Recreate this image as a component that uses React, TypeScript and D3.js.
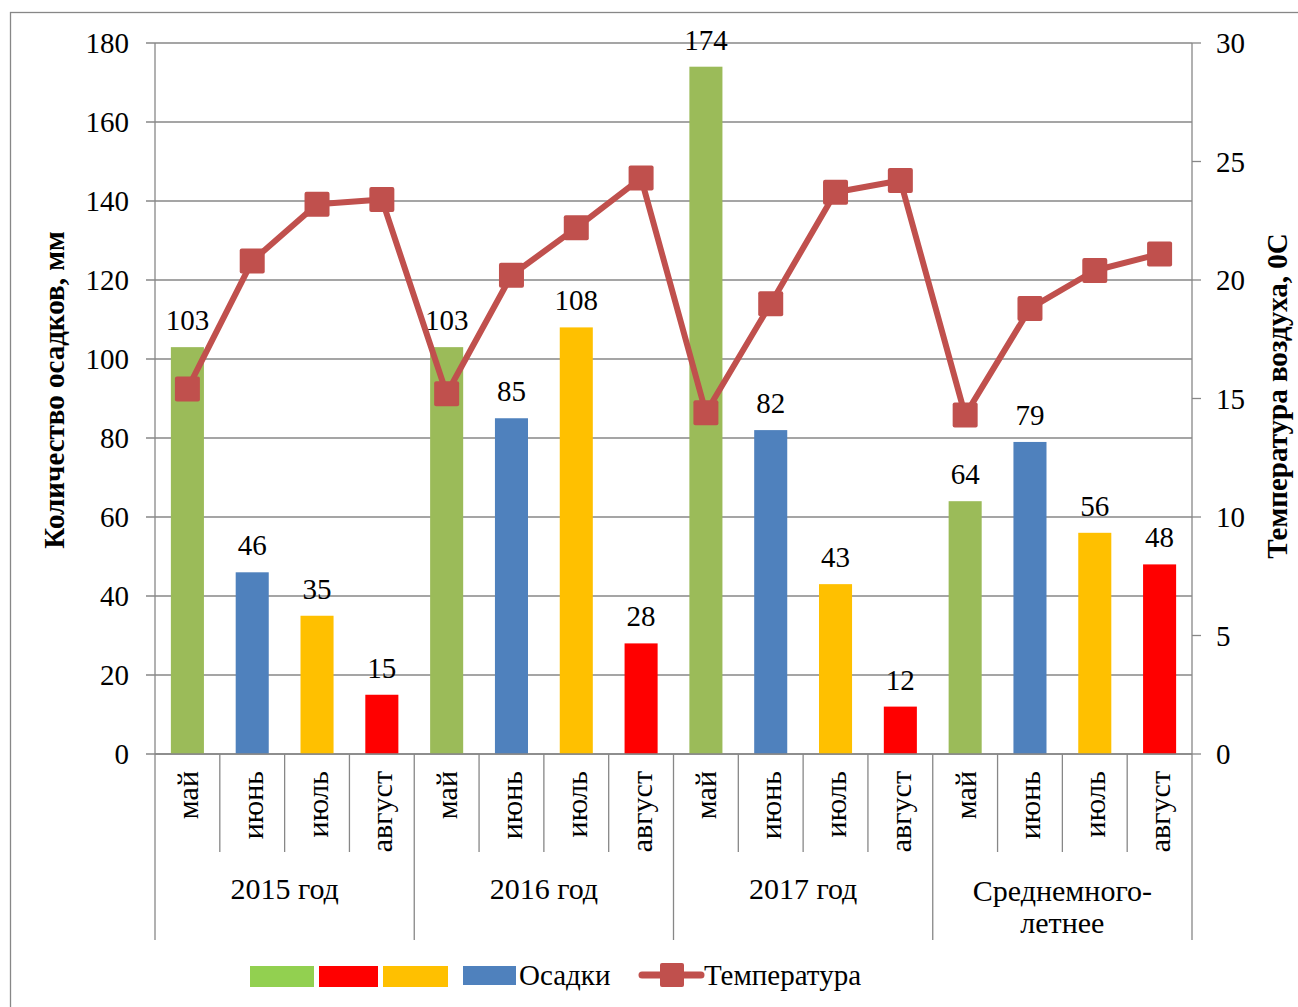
import React from 'react';
import * as d3 from 'd3';

const months = ['май', 'июнь', 'июль', 'август'];
const groups = [['2015 год'], ['2016 год'], ['2017 год'], ['Среднемного-', 'летнее']];
const precipitation = [103, 46, 35, 15, 103, 85, 108, 28, 174, 82, 43, 12, 64, 79, 56, 48];
const temperature = [15.4, 20.8, 23.2, 23.4, 15.2, 20.2, 22.2, 24.3, 14.4, 19.0, 23.7, 24.2, 14.3, 18.8, 20.4, 21.1];
const monthColors = ['#9BBB59', '#4F81BD', '#FFC000', '#FF0000'];
const leftTicks = [0, 20, 40, 60, 80, 100, 120, 140, 160, 180];
const rightTicks = [0, 5, 10, 15, 20, 25, 30];

const FONT = '"Liberation Serif", "Times New Roman", serif';
const GRID = '#878787';
const LINE = '#C0504D';

const App: React.FC = () => {
    const width = 1298;
    const height = 1007;
    const left = 155;
    const right = 1192;
    const top = 43;
    const bottom = 754;
    const fs = 29;

    const cats = groups.flatMap((g, gi) => months.map((m, mi) => `${gi}-${mi}`));

    const x = d3.scaleBand<string>()
        .domain(cats)
        .range([left, right])
        .paddingInner(0.49)
        .paddingOuter(0.245);
    const step = x.step();

    const yL = d3.scaleLinear().domain([0, 180]).range([bottom, top]);
    const yR = d3.scaleLinear().domain([0, 30]).range([bottom, top]);

    const cx = (i: number) => (x(cats[i]) ?? 0) + x.bandwidth() / 2;

    const line = d3.line<number>()
        .x((_, i) => cx(i))
        .y(d => yR(d));

    const marker = 25;

    return (
        <svg width={width} height={height} style={{ position: 'absolute', left: 0, top: 0 }}
            fontFamily={FONT}>
            <rect x={0} y={0} width={width} height={height} fill="#fff" />
            <rect x={10.5} y={12.5} width={1400} height={1100} fill="none" stroke={GRID} strokeWidth={1.3} />

            {/* gridlines */}
            {leftTicks.map(t => (
                <line key={'g' + t} x1={left - 9} x2={right} y1={yL(t)} y2={yL(t)} stroke={GRID} strokeWidth={1.3} />
            ))}
            {rightTicks.map(t => (
                <line key={'r' + t} x1={right} x2={right + 9} y1={yR(t)} y2={yR(t)} stroke={GRID} strokeWidth={1.3} />
            ))}
            <line x1={left} x2={left} y1={top} y2={bottom} stroke={GRID} strokeWidth={1.3} />
            <line x1={right} x2={right} y1={top} y2={bottom} stroke={GRID} strokeWidth={1.3} />

            {/* tick labels */}
            {leftTicks.map(t => (
                <text key={'lt' + t} x={129} y={yL(t)} dy="0.35em" textAnchor="end" fontSize={fs}>{t}</text>
            ))}
            {rightTicks.map(t => (
                <text key={'rt' + t} x={1216} y={yR(t)} dy="0.35em" textAnchor="start" fontSize={fs}>{t}</text>
            ))}

            {/* axis titles */}
            <text transform={`translate(54,390) rotate(-90)`} textAnchor="middle" dy="0.35em"
                fontSize={fs} fontWeight="bold">Количество осадков, мм</text>
            <text transform={`translate(1277,396) rotate(-90)`} textAnchor="middle" dy="0.35em"
                fontSize={fs} fontWeight="bold">Температура воздуха, 0С</text>

            {/* bars */}
            {precipitation.map((v, i) => (
                <g key={'b' + i}>
                    <rect x={x(cats[i])} y={yL(v)} width={x.bandwidth()} height={bottom - yL(v)}
                        fill={monthColors[i % 4]} />
                    <text x={cx(i)} y={yL(v) - 17} textAnchor="middle" fontSize={fs}>{v}</text>
                </g>
            ))}

            {/* category axis */}
            <line x1={left} x2={right} y1={bottom} y2={bottom} stroke={GRID} strokeWidth={1.3} />
            {d3.range(cats.length + 1).map(i => {
                const xx = left + i * step;
                const long = i % 4 === 0;
                return <line key={'s' + i} x1={xx} x2={xx} y1={bottom} y2={long ? 940 : 852}
                    stroke={GRID} strokeWidth={1.3} />;
            })}
            {cats.map((c, i) => (
                <text key={'m' + i} transform={`translate(${cx(i)},771) rotate(-90)`} textAnchor="end"
                    dy="0.35em" fontSize={30}>{months[i % 4]}</text>
            ))}
            {groups.map((g, gi) => {
                const gx = left + (gi * 4 + 2) * step;
                const gy = g.length > 1 ? 890 : 888;
                return (
                    <text key={'gr' + gi} x={gx} y={gy} textAnchor="middle" fontSize={30}>
                        {g.map((s, k) => (
                            <tspan key={k} x={gx} y={gy + k * 32} dy="0.35em">{s}</tspan>
                        ))}
                    </text>
                );
            })}

            {/* temperature line */}
            <path d={line(temperature) || undefined} fill="none" stroke={LINE} strokeWidth={6} strokeLinejoin="round" />
            {temperature.map((t, i) => (
                <rect key={'mk' + i} x={cx(i) - marker / 2} y={yR(t) - marker / 2} width={marker} height={marker}
                    rx={2} fill={LINE} />
            ))}

            {/* legend */}
            <rect x={250} y={966} width={64} height={21} fill="#92D050" />
            <rect x={319} y={966} width={59} height={21} fill="#FF0000" />
            <rect x={383} y={966} width={65} height={21} fill="#FFC000" />
            <rect x={463} y={966} width={53} height={19} fill="#4F81BD" />
            <text x={519} y={975} dy="0.35em" fontSize={fs}>Осадки</text>
            <line x1={642} x2={701} y1={975} y2={975} stroke={LINE} strokeWidth={7} strokeLinecap="round" />
            <rect x={660} y={963} width={24} height={24} rx={2} fill={LINE} />
            <text x={704} y={975} dy="0.35em" fontSize={fs}>Температура</text>
        </svg>
    );
};

export default App;
